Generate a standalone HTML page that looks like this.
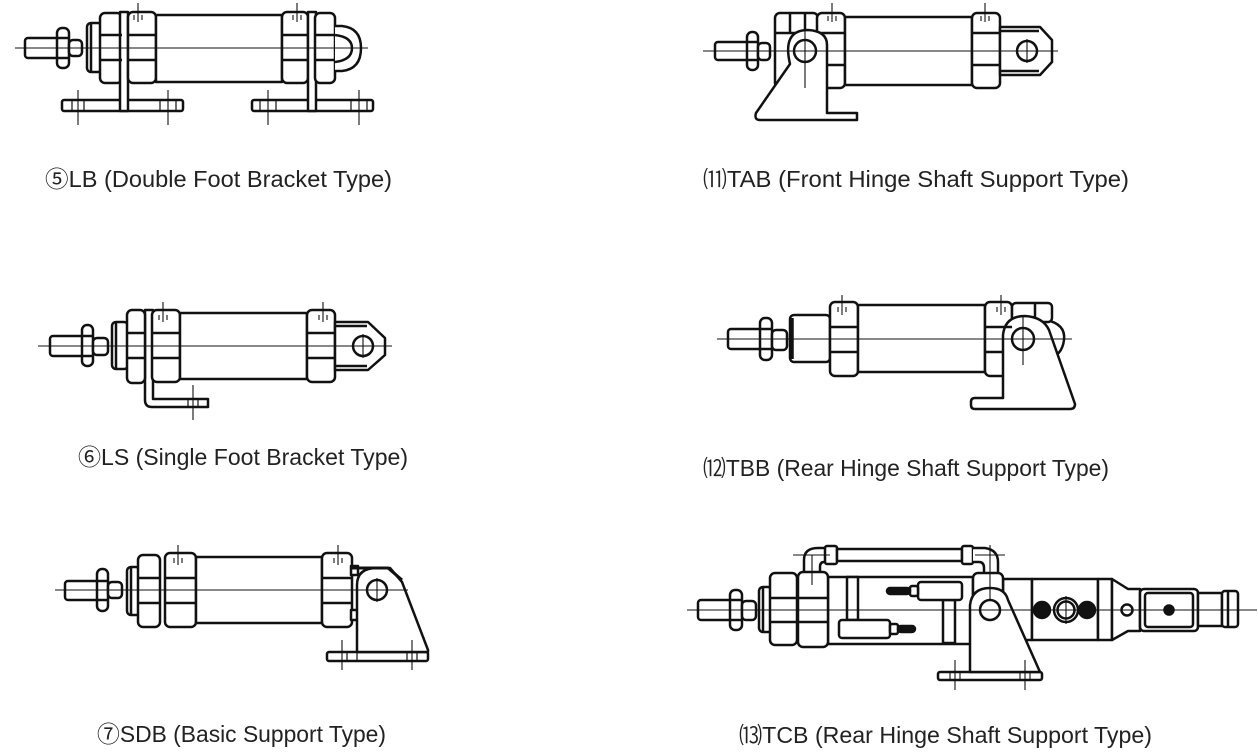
<!DOCTYPE html>
<html><head><meta charset="utf-8"><style>
html,body{margin:0;padding:0;background:#fff;}
svg{display:block}
text{font-family:"Liberation Sans","Noto Sans CJK SC",sans-serif;font-size:23px;fill:#222;}
</style></head><body>
<svg width="1258" height="754" viewBox="0 0 1258 754" xmlns="http://www.w3.org/2000/svg">
<g fill="#fff" stroke="#111" stroke-width="2.5" stroke-linejoin="round">
<!-- ===== LB ===== -->
<rect x="62" y="100" width="121" height="11" rx="2"/>
<rect x="252" y="100" width="121" height="11" rx="2"/>
<rect x="25" y="38" width="36" height="20" rx="3"/>
<rect x="57" y="28" width="12" height="40" rx="5"/>
<rect x="69" y="40" width="13" height="16" rx="4"/>
<rect x="87" y="23" width="15" height="49" rx="4"/>
<rect x="100" y="13" width="22" height="70" rx="5"/>
<rect x="120" y="12" width="8" height="99"/>
<rect x="128" y="12" width="28" height="71" rx="5"/>
<rect x="156" y="15" width="126" height="67"/>
<rect x="282" y="12" width="26" height="71" rx="5"/>
<rect x="308" y="12" width="8" height="99"/>
<rect x="315" y="13" width="20" height="70" rx="5"/>
<path d="M335,26 L342,26 Q361,28 361,48 Q361,69 342,71 L335,71"/>
<path d="M335,35 Q352,37 352,48 Q352,60 335,62" fill="none"/>
<path d="M100,35 H122 M100,60 H122 M128,35 H156 M128,60 H156 M282,35 H308 M315,35 H335 M282,60 H308 M315,60 H335 M57,38 H69 M57,58 H69 M91,24 V71" fill="none"/>
<path d="M72,100 V111 M84,100 V111 M160,100 V111 M176,100 V111 M260,100 V111 M276,100 V111 M351,100 V111 M367,100 V111" fill="none" stroke-width="1.2"/>

<!-- ===== LS ===== -->
<path d="M145,310 L145,400 Q145,407 152,407 L208,407 L208,399 L153,399 L153,310 Z"/>
<rect x="50" y="336" width="38" height="20" rx="3"/>
<rect x="82" y="325" width="11" height="41" rx="5"/>
<rect x="93" y="338" width="15" height="17" rx="4"/>
<rect x="112" y="322" width="16" height="47" rx="4"/>
<rect x="127" y="310" width="18" height="73" rx="5"/>
<rect x="152" y="310" width="28" height="72" rx="5"/>
<rect x="180" y="313" width="127" height="66"/>
<rect x="307" y="310" width="28" height="72" rx="5"/>
<path d="M335,322 L368,322 L385,338 L385,355 L368,370 L335,370 Z"/>
<path d="M335,326 H367 M335,366 H367 M127,333 H145 M127,358 H145 M152,333 H180 M152,358 H180 M307,333 H335 M307,358 H335 M82,336 H93 M82,356 H93 M116,323 V368" fill="none"/>
<circle cx="363" cy="346" r="10"/>
<path d="M188,399 V407 M198,399 V407" fill="none" stroke-width="1.2"/>

<!-- ===== SDB ===== -->
<rect x="327" y="652" width="101" height="9" rx="2"/>
<rect x="65" y="581" width="38" height="19" rx="3"/>
<rect x="97" y="569" width="11" height="42" rx="5"/>
<rect x="108" y="582" width="14" height="16" rx="4"/>
<rect x="127" y="567" width="13" height="48" rx="4"/>
<rect x="138" y="555" width="22" height="72" rx="5"/>
<rect x="165" y="553" width="31" height="74" rx="5"/>
<rect x="196" y="557" width="126" height="66"/>
<rect x="322" y="553" width="30" height="74" rx="5"/>
<rect x="351" y="566" width="7" height="9"/>
<rect x="351" y="610" width="7" height="10"/>
<path d="M357,652 L357,585 Q357,568 377,568 L390,568 L402,582 L428,650 L428,652 Z"/>
<path d="M352,568 H388 L402,580" fill="none" stroke-width="3"/>
<circle cx="377" cy="590" r="10"/>
<path d="M138,578 H160 M138,603 H160 M165,578 H196 M165,603 H196 M322,578 H352 M322,603 H352 M97,581 H108 M97,600 H108 M131,568 V614" fill="none"/>
<path d="M347,652 V661 M357,652 V661 M407,652 V661 M417,652 V661" fill="none" stroke-width="1.2"/>

<!-- ===== TAB ===== -->
<rect x="715" y="42" width="35" height="18" rx="3"/>
<rect x="747" y="32" width="11" height="38" rx="5"/>
<rect x="758" y="43" width="12" height="17" rx="4"/>
<rect x="775" y="13" width="43" height="75" rx="5"/>
<path d="M790,13 V33 M805,13 V33 M775,33 H818" fill="none"/>
<rect x="817" y="13" width="28" height="75" rx="5"/>
<rect x="845" y="17" width="127" height="68"/>
<rect x="972" y="13" width="28" height="75" rx="5"/>
<path d="M1000,27 L1040,27 L1052,40 L1052,62 L1040,75 L1000,75 Z"/>
<path d="M1000,31 H1039 M1000,71 H1039 M817,33 H845 M817,65 H845 M972,33 H1000 M972,65 H1000 M747,42 H758 M747,60 H758" fill="none"/>
<circle cx="1027" cy="51" r="10"/>
<path d="M790,64 Q782,30 808,30 Q827,31 827,45 L827,113 L857,113 L857,120 L760,120 Q754,120 756,113 Z"/>
<circle cx="805" cy="51" r="11"/>

<!-- ===== TBB ===== -->
<rect x="728" y="329" width="39" height="20" rx="3"/>
<rect x="760" y="318" width="12" height="42" rx="5"/>
<rect x="772" y="330" width="15" height="20" rx="4"/>
<rect x="790" y="315" width="40" height="47" rx="4"/>
<path d="M792,318 V359" fill="none" stroke-width="3.5"/>
<rect x="830" y="302" width="28" height="74" rx="5"/>
<rect x="858" y="305" width="127" height="67"/>
<rect x="985" y="302" width="27" height="74" rx="5"/>
<path d="M1046,320 Q1066,324 1064,340 Q1062,356 1048,358"/>
<rect x="1012" y="303" width="40" height="19" rx="4"/>
<path d="M1035,303 V322" fill="none"/>
<path d="M1003,335 Q1005,316 1025,316 Q1043,317 1049,330 L1075,404 Q1075,409 1070,409 L975,409 Q971,409 971,405 L971,402 Q971,398 975,398 L1003,398 Z"/>
<circle cx="1023" cy="339" r="11"/>
<path d="M830,327 H858 M830,352 H858 M985,327 H1012 M985,352 H1003 M760,329 H772 M760,349 H772" fill="none"/>

<!-- ===== TCB ===== -->
<rect x="828" y="577" width="145" height="67"/>
<rect x="1003" y="579" width="29" height="61"/>
<rect x="1032" y="579" width="66" height="61"/>
<rect x="1098" y="579" width="14" height="61"/>
<path d="M1112,579 L1128,589 L1140,589 L1140,631 L1128,631 L1112,640 Z"/>
<rect x="1140" y="589" width="58" height="42" rx="4"/>
<rect x="1145" y="593" width="48" height="34" rx="3"/>
<rect x="1198" y="593" width="24" height="33"/>
<rect x="1222" y="591" width="16" height="36" rx="3"/>
<path d="M1228,591 V627" fill="none"/>
<rect x="698" y="600" width="35" height="20" rx="3"/>
<rect x="730" y="590" width="12" height="40" rx="5"/>
<rect x="742" y="601" width="14" height="19" rx="4"/>
<rect x="759" y="587" width="13" height="45" rx="4"/>
<rect x="770" y="573" width="27" height="72" rx="5"/>
<path d="M804,572 L804,560 Q804,548 818,548 L827,548 L827,562 L824,562 Q820,562 820,567 L820,572"/>
<rect x="798" y="572" width="30" height="75" rx="5"/>
<rect x="825" y="546" width="12" height="18" rx="2"/>
<rect x="837" y="549" width="125" height="12"/>
<rect x="962" y="546" width="11" height="18" rx="2"/>
<path d="M973,548 L985,548 Q998,550 998,562 L998,575 L984,575 L984,568 Q984,562 979,562 L973,562"/>
<rect x="973" y="573" width="30" height="72" rx="5"/>
<rect x="938" y="672" width="104" height="8" rx="2"/>
<path d="M970,672 L970,605 Q972,588 990,588 Q1005,588 1008,600 L1040,672 Z"/>
<circle cx="990" cy="610" r="10"/>
<rect x="847" y="577" width="11" height="43"/>
<rect x="839" y="620" width="51" height="18" rx="3"/>
<rect x="890" y="624" width="8" height="10" rx="2"/>
<rect x="898" y="626" width="17" height="6" rx="3" fill="#111"/>
<rect x="943" y="600" width="12" height="43"/>
<rect x="918" y="582" width="44" height="18" rx="3"/>
<rect x="910" y="586" width="8" height="10" rx="2"/>
<rect x="887" y="588" width="23" height="6" rx="3" fill="#111"/>
<path d="M770,598 H797 M770,622 H797 M798,598 H828 M798,622 H828 M730,600 H742 M730,620 H742 M763,588 V631" fill="none"/>
<circle cx="1042" cy="610" r="8" fill="#111"/>
<circle cx="1066" cy="610" r="12"/>
<circle cx="1066" cy="610" r="8.5"/>
<circle cx="1087" cy="610" r="8" fill="#111"/>
<circle cx="1127" cy="610" r="5.5"/>
<circle cx="1169" cy="610" r="4.5" fill="#111"/>
</g>

<!-- thin center / dimension lines -->
<g stroke="#111" stroke-width="1.1" fill="none">
<path d="M15,48 H368 M78,90 V125 M168,90 V125 M268,90 V125 M359,90 V125 M138,3 V22 M297,3 V22"/>
<path d="M134,15 v5 M142,15 v5 M293,15 v5 M301,15 v5"/>
<path d="M38,346 H392 M193,385 V420 M163,302 V322 M323,302 V322 M363,334 V358"/>
<path d="M159,315 v5 M167,315 v5 M319,315 v5 M327,315 v5"/>
<path d="M55,590 H408 M342,640 V670 M412,640 V670 M178,545 V565 M338,545 V565 M377,578 V602"/>
<path d="M174,558 v5 M182,558 v5 M334,558 v5 M342,558 v5"/>
<path d="M703,51 H1058 M805,30 V88 M832,3 V22 M985,3 V22 M1027,39 V63"/>
<path d="M828,16 v5 M836,16 v5 M981,16 v5 M989,16 v5"/>
<path d="M717,339 H1072 M1023,316 V365 M842,295 V315 M1001,295 V315"/>
<path d="M838,307 v5 M846,307 v5 M997,307 v5 M1005,307 v5"/>
<path d="M687,610 H1257 M812,555 V585 M793,555 H830 M990,545 V600 M975,555 H1005 M955,660 V690 M1025,660 V690 M1066,596 V624"/>
<path d="M950,672 V680 M960,672 V680 M1020,672 V680 M1030,672 V680"/>
</g>

<text x="45" y="187" textLength="347" lengthAdjust="spacingAndGlyphs">⑤LB (Double Foot Bracket Type)</text>
<text x="703" y="187" textLength="426" lengthAdjust="spacingAndGlyphs">⑾TAB (Front Hinge Shaft Support Type)</text>
<text x="78" y="465" textLength="330" lengthAdjust="spacingAndGlyphs">⑥LS (Single Foot Bracket Type)</text>
<text x="703" y="476" textLength="406" lengthAdjust="spacingAndGlyphs">⑿TBB (Rear Hinge Shaft Support Type)</text>
<text x="97" y="742" textLength="289" lengthAdjust="spacingAndGlyphs">⑦SDB (Basic Support Type)</text>
<text x="739" y="743" textLength="413" lengthAdjust="spacingAndGlyphs">⒀TCB (Rear Hinge Shaft Support Type)</text>
</svg>
</body></html>
